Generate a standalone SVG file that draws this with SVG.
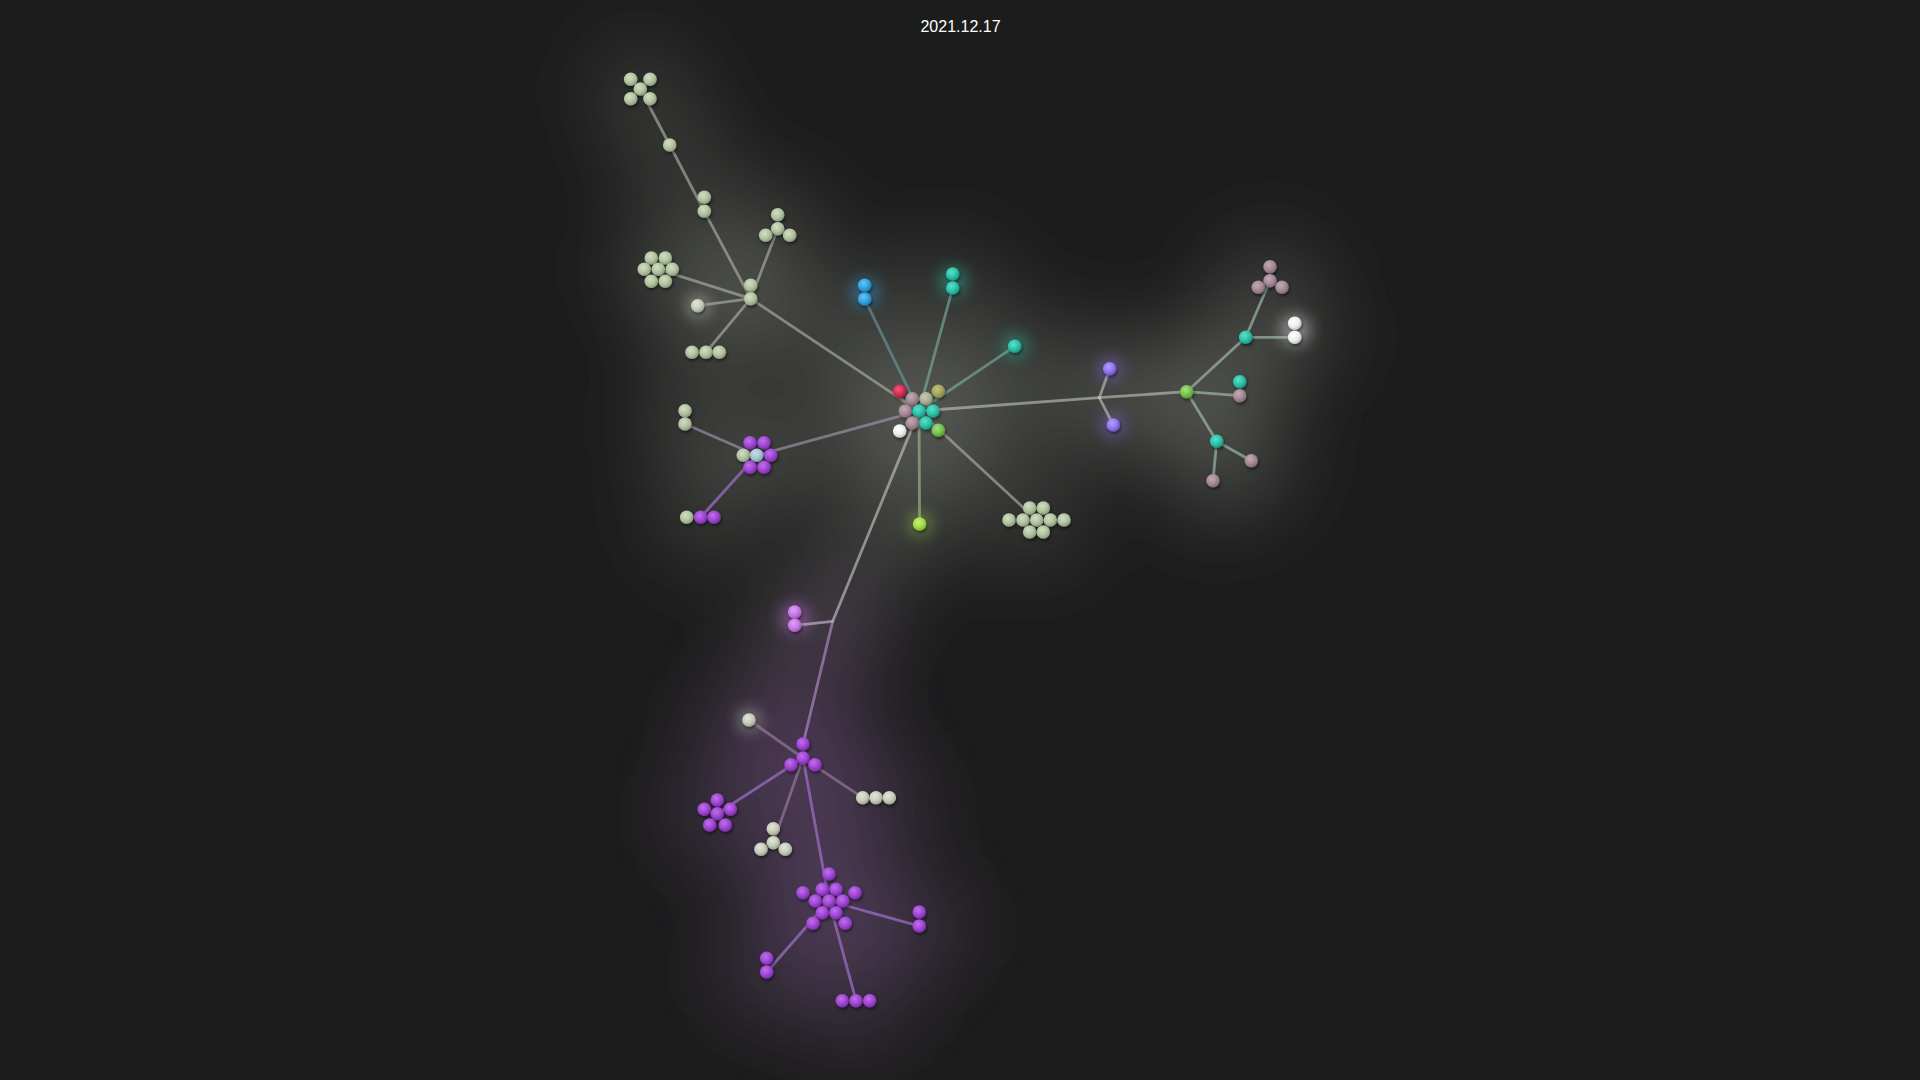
<svg xmlns="http://www.w3.org/2000/svg" width="1920" height="1080" viewBox="0 0 1920 1080">
<defs>
<filter id="fog" x="-50%" y="-50%" width="200%" height="200%"><feGaussianBlur stdDeviation="40"/></filter>
<filter id="glow" x="-100%" y="-100%" width="300%" height="300%"><feGaussianBlur stdDeviation="8"/></filter>
<filter id="sh" x="-50%" y="-50%" width="200%" height="200%"><feDropShadow dx="1" dy="2" stdDeviation="1.5" flood-color="#000" flood-opacity="0.5"/></filter>
<radialGradient id="gS" cx="40%" cy="35%" r="65%"><stop offset="0" stop-color="#d2dfc2"/><stop offset="0.6" stop-color="#b2c3a1"/><stop offset="1" stop-color="#8c9a7e"/></radialGradient>
<radialGradient id="gW" cx="40%" cy="35%" r="65%"><stop offset="0" stop-color="#e2e6da"/><stop offset="0.6" stop-color="#c6ccba"/><stop offset="1" stop-color="#9ea492"/></radialGradient>
<radialGradient id="gP" cx="40%" cy="35%" r="65%"><stop offset="0" stop-color="#c070ec"/><stop offset="0.6" stop-color="#a046d4"/><stop offset="1" stop-color="#7a2ea8"/></radialGradient>
<radialGradient id="gLP" cx="40%" cy="35%" r="65%"><stop offset="0" stop-color="#e2a0f4"/><stop offset="0.6" stop-color="#c878e4"/><stop offset="1" stop-color="#a25abe"/></radialGradient>
<radialGradient id="gB" cx="40%" cy="35%" r="65%"><stop offset="0" stop-color="#66c6f2"/><stop offset="0.6" stop-color="#34a2e0"/><stop offset="1" stop-color="#227cb2"/></radialGradient>
<radialGradient id="gT" cx="40%" cy="35%" r="65%"><stop offset="0" stop-color="#5ce0c8"/><stop offset="0.6" stop-color="#2cc2a8"/><stop offset="1" stop-color="#1e9480"/></radialGradient>
<radialGradient id="gM" cx="40%" cy="35%" r="65%"><stop offset="0" stop-color="#c4aab8"/><stop offset="0.6" stop-color="#a48896"/><stop offset="1" stop-color="#806876"/></radialGradient>
<radialGradient id="gG" cx="40%" cy="35%" r="65%"><stop offset="0" stop-color="#c6cab2"/><stop offset="0.6" stop-color="#aab098"/><stop offset="1" stop-color="#888c76"/></radialGradient>
<radialGradient id="gR" cx="40%" cy="35%" r="65%"><stop offset="0" stop-color="#f05c7a"/><stop offset="0.6" stop-color="#d82a52"/><stop offset="1" stop-color="#a41c3c"/></radialGradient>
<radialGradient id="gO" cx="40%" cy="35%" r="65%"><stop offset="0" stop-color="#c4c482"/><stop offset="0.6" stop-color="#a4a460"/><stop offset="1" stop-color="#808048"/></radialGradient>
<radialGradient id="gWh" cx="40%" cy="35%" r="65%"><stop offset="0" stop-color="#ffffff"/><stop offset="0.6" stop-color="#eeeeee"/><stop offset="1" stop-color="#c4c4c4"/></radialGradient>
<radialGradient id="gGr" cx="40%" cy="35%" r="65%"><stop offset="0" stop-color="#a4e084"/><stop offset="0.6" stop-color="#76c24e"/><stop offset="1" stop-color="#569a36"/></radialGradient>
<radialGradient id="gL" cx="40%" cy="35%" r="65%"><stop offset="0" stop-color="#caf078"/><stop offset="0.6" stop-color="#a4dc4a"/><stop offset="1" stop-color="#80b032"/></radialGradient>
<radialGradient id="gV" cx="40%" cy="35%" r="65%"><stop offset="0" stop-color="#b4a0fa"/><stop offset="0.6" stop-color="#9076ee"/><stop offset="1" stop-color="#6c54c0"/></radialGradient>
<radialGradient id="gLB" cx="40%" cy="35%" r="65%"><stop offset="0" stop-color="#c8dee8"/><stop offset="0.6" stop-color="#a4c4d2"/><stop offset="1" stop-color="#809eac"/></radialGradient>
</defs>
<style>
circle{filter:url(#sh)}
.S{fill:url(#gS)}.W{fill:url(#gW)}.P{fill:url(#gP)}.LP{fill:url(#gLP)}.B{fill:url(#gB)}.T{fill:url(#gT)}.M{fill:url(#gM)}.G{fill:url(#gG)}.R{fill:url(#gR)}.O{fill:url(#gO)}.Wh{fill:url(#gWh)}.Gr{fill:url(#gGr)}.L{fill:url(#gL)}.V{fill:url(#gV)}.LB{fill:url(#gLB)}
.e{stroke:#b0b4a8;stroke-opacity:0.62;stroke-width:2.8;stroke-linecap:round;fill:none}
.ep{stroke:#9c6cc4;stroke-opacity:0.75}
.eb{stroke:#6c98a4}
.et{stroke:#7cb0a0}
.eg{stroke:#a6c6b6}
.fog{fill:none;stroke-linecap:round;stroke-linejoin:round}
.t{font-family:"Liberation Sans",Arial,sans-serif;font-size:16px;fill:#ffffff}
</style>
<rect width="1920" height="1080" fill="#1c1c1c"/>
<g id="fog" filter="url(#fog)">
<g class="fog" stroke="#62645c" stroke-opacity="0.4" stroke-width="90">
<polyline points="640,89 670,145 704,211 751,299 919,411"/>
<polyline points="658,269 751,299 778,229"/>
<polyline points="698,306 751,299 706,352"/>
<polyline points="865,299 919,411 953,288"/>
<polyline points="1015,346 919,411 1037,520"/>
<polyline points="919,411 1099,398 1187,392 1246,337 1270,281"/>
<polyline points="1246,337 1295,337"/>
<polyline points="1187,392 1240,396"/>
<polyline points="1187,392 1217,441 1251,461"/>
<polyline points="1217,441 1213,481"/>
<polyline points="1110,369 1099,398 1113,425"/>
<polyline points="919,411 920,524"/>
<polyline points="919,411 833,621 795,625"/>
<polyline points="685,424 757,455 919,411"/>
<polyline points="701,517 757,455"/>
</g>
<g class="fog" stroke="#56405f" stroke-opacity="0.5" stroke-width="100">
<polyline points="833,621 803,744 829,901"/>
<polyline points="749,720 803,758 863,798 876,798"/>
<polyline points="717,814 803,758 773,843"/>
<polyline points="829,901 919,926"/>
<polyline points="829,901 767,972"/>
<polyline points="829,901 856,1001"/>
</g>
</g>
<g id="glows" filter="url(#glow)" opacity="0.45">
<circle cx="865" cy="292" r="14" fill="#3aa8e8"/>
<circle cx="953" cy="281" r="14" fill="#2ec9b0"/>
<circle cx="1015" cy="346" r="12" fill="#2ec9b0"/>
<circle cx="1295" cy="330" r="15" fill="#ffffff"/>
<circle cx="1110" cy="369" r="12" fill="#9070f0"/>
<circle cx="1113" cy="425" r="12" fill="#9070f0"/>
<circle cx="795" cy="618" r="15" fill="#cc7ae8"/>
<circle cx="920" cy="524" r="11" fill="#a8e050"/>
<circle cx="698" cy="306" r="11" fill="#e0e8d8"/>
<circle cx="749" cy="720" r="11" fill="#e0e0d8"/>
</g>
<g id="connectors">
<line class="e" x1="640.3" y1="89" x2="669.7" y2="145"/>
<line class="e" x1="669.7" y1="145" x2="704.3" y2="211.3"/>
<line class="e" x1="704.3" y1="211.3" x2="750.7" y2="298.7"/>
<line class="e" x1="777.7" y1="228.7" x2="750.7" y2="298.7"/>
<line class="e" x1="658.3" y1="269.3" x2="750.7" y2="298.7"/>
<line class="e" x1="697.7" y1="305.7" x2="750.7" y2="298.7"/>
<line class="e" x1="706" y1="352.3" x2="750.7" y2="298.7"/>
<line class="e" x1="750.7" y1="298.7" x2="919" y2="411"/>
<line class="e eb" x1="864.7" y1="299" x2="919" y2="411"/>
<line class="e et" x1="952.7" y1="288" x2="919" y2="411"/>
<line class="e et" x1="1014.7" y1="346.3" x2="919" y2="411"/>
<line class="e" style="stroke:#a896b0" x1="756.7" y1="455.3" x2="919" y2="411"/>
<line class="e" style="stroke:#a898b4" x1="685" y1="424" x2="756.7" y2="455.3"/>
<line class="e ep" x1="700.7" y1="517.3" x2="756.7" y2="455.3"/>
<line class="e" style="stroke:#c0c4bc" x1="919" y1="411" x2="1099.3" y2="397.7"/>
<line class="e" style="stroke:#c0c4bc" x1="1099.3" y1="397.7" x2="1109.7" y2="368.7"/>
<line class="e" style="stroke:#c0c4bc" x1="1099.3" y1="397.7" x2="1113.3" y2="425"/>
<line class="e" style="stroke:#c0c4bc" x1="1099.3" y1="397.7" x2="1186.7" y2="391.7"/>
<line class="e eg" x1="1186.7" y1="391.7" x2="1245.7" y2="337.3"/>
<line class="e eg" x1="1245.7" y1="337.3" x2="1270" y2="280.7"/>
<line class="e eg" x1="1245.7" y1="337.3" x2="1294.7" y2="337.3"/>
<line class="e eg" x1="1186.7" y1="391.7" x2="1239.7" y2="395.7"/>
<line class="e eg" x1="1186.7" y1="391.7" x2="1216.7" y2="441.3"/>
<line class="e eg" x1="1216.7" y1="441.3" x2="1251.3" y2="460.7"/>
<line class="e eg" x1="1216.7" y1="441.3" x2="1213" y2="480.7"/>
<line class="e" style="stroke:#a8bc90" x1="919" y1="411" x2="919.6" y2="524"/>
<line class="e" x1="919" y1="411" x2="1036.7" y2="520"/>
<line class="e" style="stroke:#c8c8c8" x1="919" y1="411" x2="832.7" y2="621.3"/>
<line class="e" style="stroke:#d0c0d8" x1="832.7" y1="621.3" x2="794.7" y2="625.3"/>
<line class="e" style="stroke:#b890d0" x1="832.7" y1="621.3" x2="803" y2="744"/>
<line class="e" style="stroke:#9c80a8" x1="749" y1="720" x2="803" y2="758"/>
<line class="e" style="stroke:#9c80a8" x1="803" y1="758" x2="862.7" y2="797.7"/>
<line class="e ep" x1="803" y1="758" x2="717.3" y2="813.7"/>
<line class="e" style="stroke:#9c80a8" x1="803" y1="758" x2="773.3" y2="842.7"/>
<line class="e ep" x1="803" y1="758" x2="829" y2="901"/>
<line class="e ep" x1="829" y1="901" x2="919.3" y2="926"/>
<line class="e ep" x1="829" y1="901" x2="766.7" y2="972"/>
<line class="e ep" x1="829" y1="901" x2="856" y2="1000.7"/>
</g>
<g id="node-x5"><circle class="S" cx="630.7" cy="79.3" r="6.8"/><circle class="S" cx="650" cy="79.3" r="6.8"/><circle class="S" cx="640.3" cy="89" r="6.8"/><circle class="S" cx="630.7" cy="98.7" r="6.8"/><circle class="S" cx="650" cy="98.7" r="6.8"/></g>
<g id="node-s1"><circle class="S" cx="669.7" cy="145" r="6.8"/></g>
<g id="node-s2"><circle class="S" cx="704.3" cy="197.3" r="6.8"/><circle class="S" cx="704.3" cy="211.3" r="6.8"/></g>
<g id="node-tri1"><circle class="S" cx="777.7" cy="214.7" r="6.8"/><circle class="S" cx="777.7" cy="228.7" r="6.8"/><circle class="S" cx="765.7" cy="235.3" r="6.8"/><circle class="S" cx="789.7" cy="235.3" r="6.8"/></g>
<g id="node-hex1"><circle class="S" cx="651.3" cy="258" r="6.8"/><circle class="S" cx="665.3" cy="258" r="6.8"/><circle class="S" cx="644.3" cy="269.3" r="6.8"/><circle class="S" cx="658.3" cy="269.3" r="6.8"/><circle class="S" cx="672.3" cy="269.3" r="6.8"/><circle class="S" cx="651.3" cy="281.3" r="6.8"/><circle class="S" cx="665.3" cy="281.3" r="6.8"/></g>
<g id="node-hub"><circle class="S" cx="750.7" cy="285.3" r="6.8"/><circle class="S" cx="750.7" cy="298.7" r="6.8"/></g>
<g id="node-s3"><circle class="W" cx="697.7" cy="305.7" r="6.8"/></g>
<g id="node-tr1"><circle class="S" cx="692" cy="352.3" r="6.8"/><circle class="S" cx="706" cy="352.3" r="6.8"/><circle class="S" cx="719.3" cy="352.3" r="6.8"/></g>
<g id="node-blue"><circle class="B" cx="864.7" cy="285.3" r="6.8"/><circle class="B" cx="864.7" cy="299" r="6.8"/></g>
<g id="node-teal2"><circle class="T" cx="952.7" cy="274" r="6.8"/><circle class="T" cx="952.7" cy="288" r="6.8"/></g>
<g id="node-teal1"><circle class="T" cx="1014.7" cy="346.3" r="6.8"/></g>
<g id="node-center">
<circle class="R" cx="899.7" cy="391.3" r="6.8"/><circle class="O" cx="938.3" cy="391.3" r="6.8"/>
<circle class="M" cx="912.3" cy="398.7" r="6.8"/><circle class="G" cx="926" cy="398.7" r="6.8"/>
<circle class="M" cx="905.3" cy="411" r="6.8"/><circle class="T" cx="919" cy="411" r="6.8"/><circle class="T" cx="933" cy="411" r="6.8"/>
<circle class="M" cx="912.3" cy="423" r="6.8"/><circle class="T" cx="926" cy="423" r="6.8"/>
<circle class="Wh" cx="899.7" cy="431" r="6.8"/><circle class="Gr" cx="938.3" cy="430.3" r="6.8"/>
</g>
<g id="node-pp"><circle class="S" cx="685" cy="410.7" r="6.8"/><circle class="S" cx="685" cy="424" r="6.8"/></g>
<g id="node-purple1"><circle class="P" cx="750" cy="442.7" r="6.8"/><circle class="P" cx="764" cy="442.7" r="6.8"/><circle class="S" cx="743.3" cy="455.3" r="6.8"/><circle class="LB" cx="756.7" cy="455.3" r="6.8"/><circle class="P" cx="770.7" cy="455.3" r="6.8"/><circle class="P" cx="750" cy="467.3" r="6.8"/><circle class="P" cx="764" cy="467.3" r="6.8"/></g>
<g id="node-tr2"><circle class="S" cx="686.7" cy="517.3" r="6.8"/><circle class="P" cx="700.7" cy="517.3" r="6.8"/><circle class="P" cx="714" cy="517.3" r="6.8"/></g>
<g id="node-lime"><circle class="L" cx="919.6" cy="524" r="6.8"/></g>
<g id="node-nine"><circle class="S" cx="1029.7" cy="508" r="6.8"/><circle class="S" cx="1043.3" cy="508" r="6.8"/><circle class="S" cx="1009" cy="520" r="6.8"/><circle class="S" cx="1023" cy="520" r="6.8"/><circle class="S" cx="1036.7" cy="520" r="6.8"/><circle class="S" cx="1050.3" cy="520" r="6.8"/><circle class="S" cx="1064" cy="520" r="6.8"/><circle class="S" cx="1029.7" cy="532" r="6.8"/><circle class="S" cx="1043.3" cy="532" r="6.8"/></g>
<g id="node-violet"><circle class="V" cx="1109.7" cy="368.7" r="6.8"/><circle class="V" cx="1113.3" cy="425" r="6.8"/></g>
<g id="node-green"><circle class="Gr" cx="1186.7" cy="391.7" r="6.8"/></g>
<g id="node-tealA"><circle class="T" cx="1245.7" cy="337.3" r="6.8"/></g>
<g id="node-pinktri"><circle class="M" cx="1270" cy="266.7" r="6.8"/><circle class="M" cx="1270" cy="280.7" r="6.8"/><circle class="M" cx="1258.3" cy="287.3" r="6.8"/><circle class="M" cx="1282" cy="287.3" r="6.8"/></g>
<g id="node-white2"><circle class="Wh" cx="1294.7" cy="323.3" r="6.8"/><circle class="Wh" cx="1294.7" cy="337.3" r="6.8"/></g>
<g id="node-tm"><circle class="T" cx="1239.7" cy="381.7" r="6.8"/><circle class="M" cx="1239.7" cy="395.7" r="6.8"/></g>
<g id="node-tealB"><circle class="T" cx="1216.7" cy="441.3" r="6.8"/></g>
<g id="node-pk1"><circle class="M" cx="1251.3" cy="460.7" r="6.8"/></g>
<g id="node-pk2"><circle class="M" cx="1213" cy="480.7" r="6.8"/></g>
<g id="node-lp"><circle class="LP" cx="794.7" cy="612" r="6.8"/><circle class="LP" cx="794.7" cy="625.3" r="6.8"/></g>
<g id="node-w1"><circle class="W" cx="749" cy="720" r="6.8"/></g>
<g id="node-p4"><circle class="P" cx="803" cy="744" r="6.8"/><circle class="P" cx="803" cy="758" r="6.8"/><circle class="P" cx="791" cy="764.7" r="6.8"/><circle class="P" cx="815" cy="764.7" r="6.8"/></g>
<g id="node-gtr"><circle class="W" cx="862.7" cy="797.7" r="6.8"/><circle class="W" cx="876" cy="797.7" r="6.8"/><circle class="W" cx="889.3" cy="797.7" r="6.8"/></g>
<g id="node-pflower"><circle class="P" cx="717.3" cy="800" r="6.8"/><circle class="P" cx="704.3" cy="809.3" r="6.8"/><circle class="P" cx="730.3" cy="809.3" r="6.8"/><circle class="P" cx="717.3" cy="813.7" r="6.8"/><circle class="P" cx="709.7" cy="825" r="6.8"/><circle class="P" cx="725.3" cy="825" r="6.8"/></g>
<g id="node-gtri"><circle class="W" cx="773.3" cy="828.7" r="6.8"/><circle class="W" cx="773.3" cy="842.7" r="6.8"/><circle class="W" cx="761" cy="849.3" r="6.8"/><circle class="W" cx="785.3" cy="849.3" r="6.8"/></g>
<g id="node-big">
<circle class="P" cx="829" cy="874" r="6.8"/>
<circle class="P" cx="803" cy="892.7" r="6.8"/><circle class="P" cx="822.3" cy="889.3" r="6.8"/><circle class="P" cx="836" cy="889.3" r="6.8"/><circle class="P" cx="855" cy="892.7" r="6.8"/>
<circle class="P" cx="815.3" cy="901" r="6.8"/><circle class="P" cx="829" cy="901" r="6.8"/><circle class="P" cx="842.7" cy="901" r="6.8"/>
<circle class="P" cx="822.3" cy="912.7" r="6.8"/><circle class="P" cx="836" cy="912.7" r="6.8"/>
<circle class="P" cx="813" cy="923.3" r="6.8"/><circle class="P" cx="845.3" cy="923.3" r="6.8"/>
</g>
<g id="node-pr"><circle class="P" cx="919.3" cy="912" r="6.8"/><circle class="P" cx="919.3" cy="926" r="6.8"/></g>
<g id="node-pl"><circle class="P" cx="766.7" cy="958.3" r="6.8"/><circle class="P" cx="766.7" cy="972" r="6.8"/></g>
<g id="node-pt"><circle class="P" cx="842.3" cy="1000.7" r="6.8"/><circle class="P" cx="856" cy="1000.7" r="6.8"/><circle class="P" cx="869.7" cy="1000.7" r="6.8"/></g>
<text class="t" x="960.5" y="32" text-anchor="middle">2021.12.17</text>
</svg>
